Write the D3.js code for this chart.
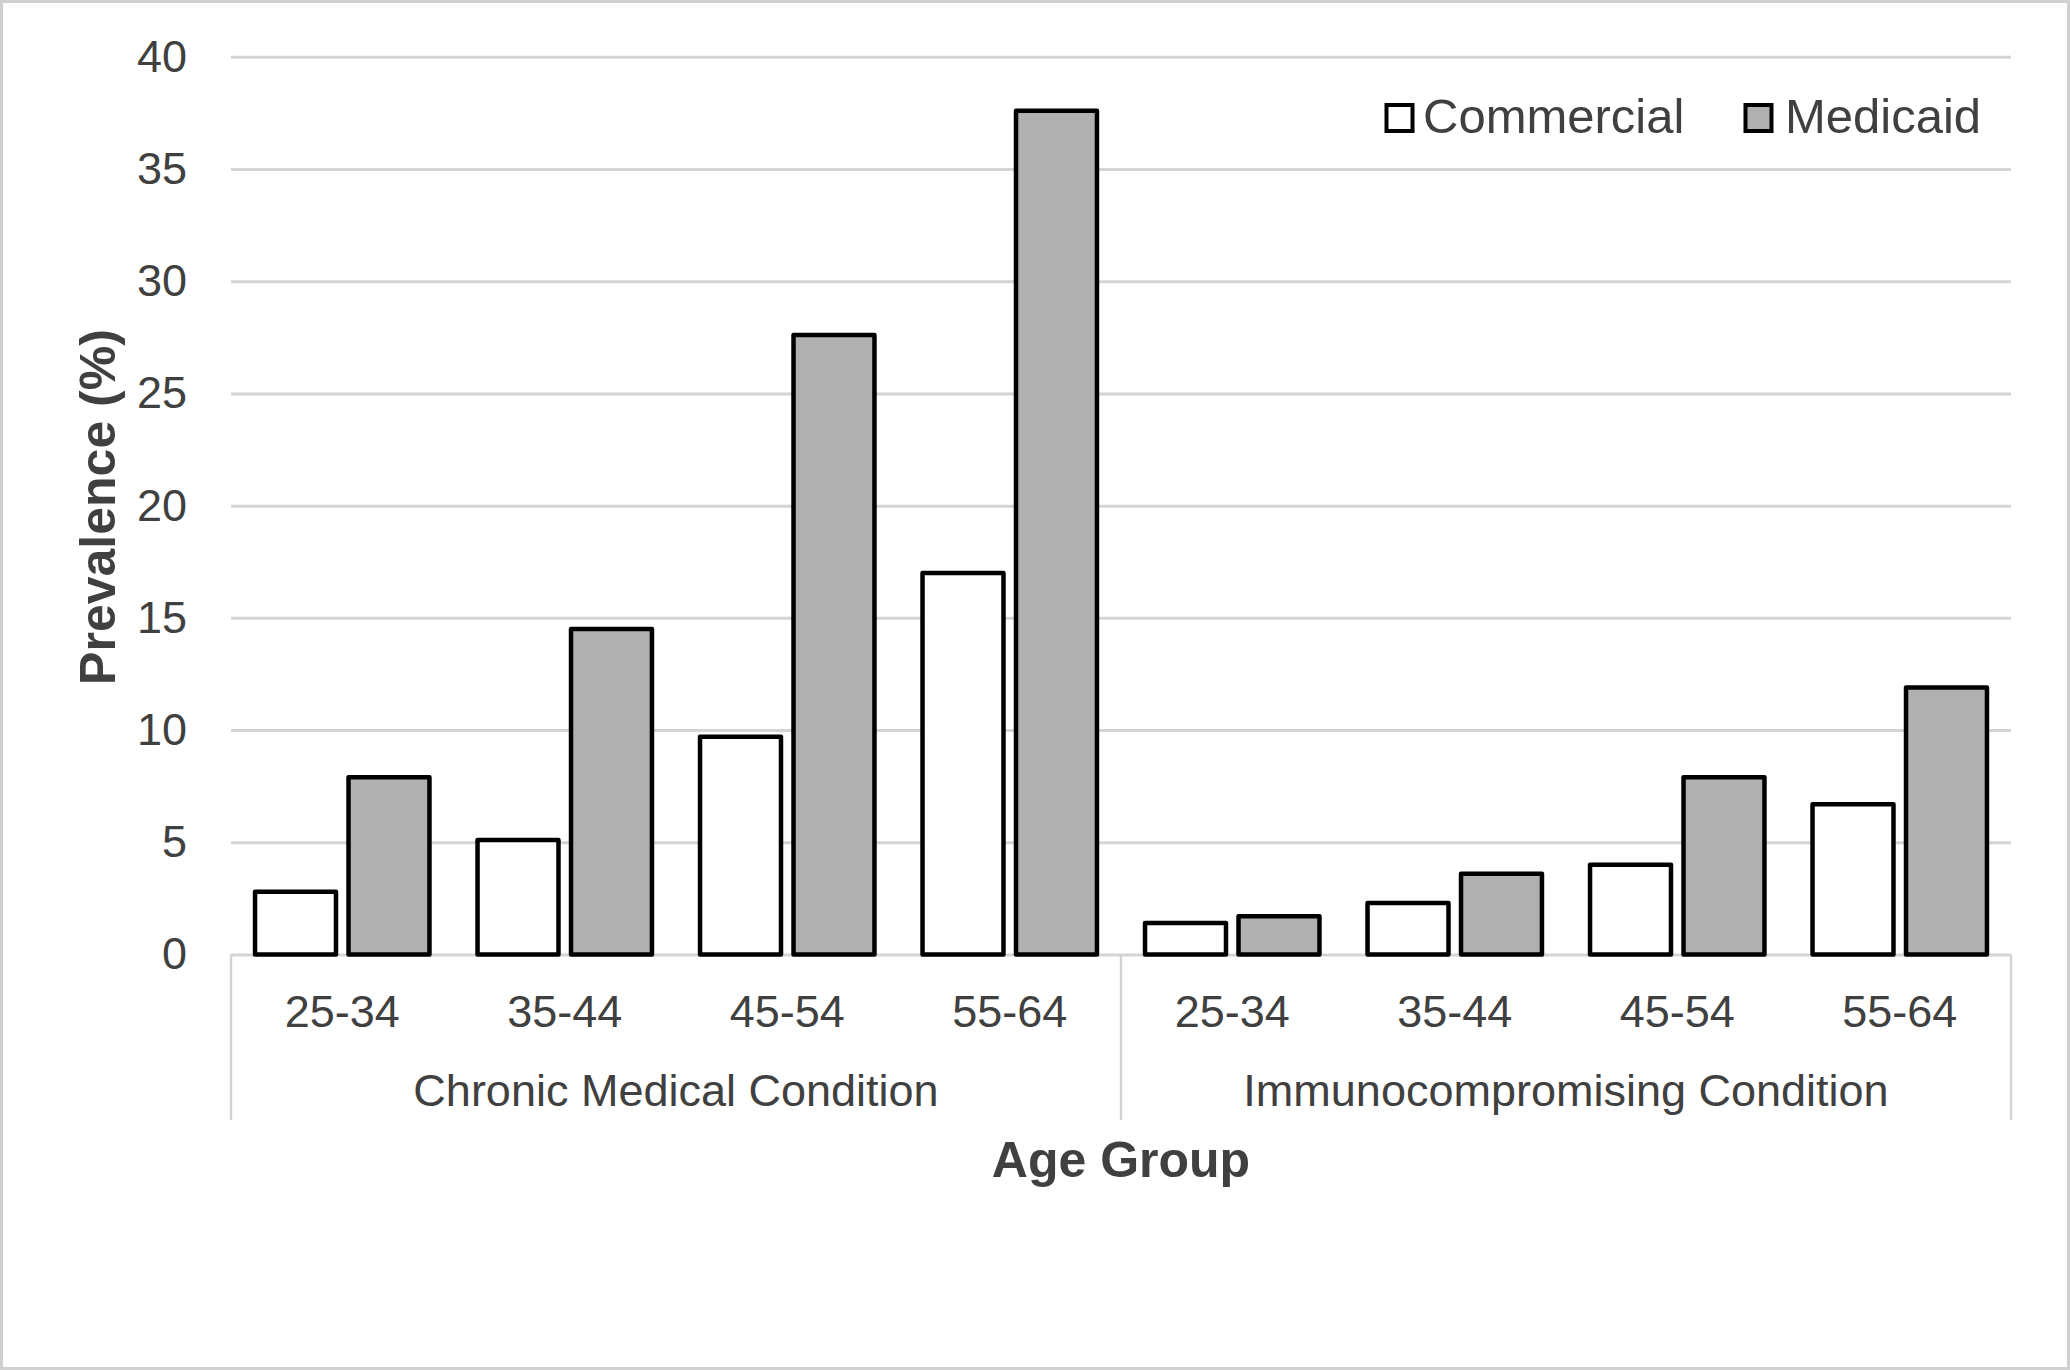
<!DOCTYPE html>
<html>
<head>
<meta charset="utf-8">
<script src="https://cdn.jsdelivr.net/npm/d3@7"></script>
<style>
  html, body { margin: 0; padding: 0; background: #fff; }
  svg { display: block; font-family: "Liberation Sans", Arial, Helvetica, sans-serif; }
</style>
</head>
<body>
<svg id="chart" width="2070" height="1370"></svg>
<script>
// ---- data ----
const conditionGroups = ["Chronic Medical Condition", "Immunocompromising Condition"];
const ageGroups = ["25-34", "35-44", "45-54", "55-64"];
const seriesNames = ["Commercial", "Medicaid"];
const commercial = [2.8, 5.1, 9.7, 17.0, 1.4, 2.3, 4.0, 6.7];
const medicaid   = [7.9, 14.5, 27.6, 37.6, 1.7, 3.6, 7.9, 11.9];
const yTicks = [0, 5, 10, 15, 20, 25, 30, 35, 40];
const yTitle = "Prevalence (%)";
const xTitle = "Age Group";

// ---- build rows ----
const rows = [];
conditionGroups.forEach((g, gi) => {
  ageGroups.forEach((a, ai) => {
    const i = gi * ageGroups.length + ai;
    rows.push({ key: g + "|" + a, group: g, age: a, Commercial: commercial[i], Medicaid: medicaid[i] });
  });
});

const W = 2070, H = 1370;
const plotL = 231, plotR = 2011, plotTop = 56.8, plotBottom = 954.5;
const textColor = "#404040";
const gridColor = "#d4d4d4";
const fills = { Commercial: "#ffffff", Medicaid: "#b0b0b0" };

const svg = d3.select("#chart");
svg.append("rect").attr("x", 0).attr("y", 0).attr("width", W).attr("height", H).attr("fill", "#fff");
// outer frame
svg.append("rect").attr("x", 1.5).attr("y", 1.5).attr("width", W - 3).attr("height", H - 3)
  .attr("fill", "none").attr("stroke", "#d0d0d0").attr("stroke-width", 3);

const y = d3.scaleLinear().domain([0, 40]).range([plotBottom, plotTop]);
const x0 = d3.scaleBand().domain(rows.map(d => d.key)).range([plotL, plotR]).padding(0);
const bw = x0.bandwidth();
const x1 = d3.scaleBand().domain(seriesNames).range([bw * 0.108, bw * 0.892]).paddingInner(0.134).paddingOuter(0);

// y axis with gridlines
const yAxis = svg.append("g").attr("transform", `translate(${plotL},0)`)
  .call(d3.axisLeft(y).tickValues(yTicks).tickSize(-(plotR - plotL)).tickPadding(44));
yAxis.select(".domain").remove();
yAxis.selectAll(".tick line").attr("stroke", gridColor).attr("stroke-width", 3);
yAxis.selectAll(".tick text").attr("fill", textColor).attr("font-size", 45)
  .attr("font-family", '"Liberation Sans", Arial, sans-serif');

// category axis frame lines
const groupBounds = [plotL, (plotL + plotR) / 2, plotR];
svg.append("g").selectAll("line").data(groupBounds).join("line")
  .attr("x1", d => d).attr("x2", d => d)
  .attr("y1", plotBottom).attr("y2", 1120)
  .attr("stroke", gridColor).attr("stroke-width", 2.5);

// bars
const barG = svg.append("g");
rows.forEach(r => {
  seriesNames.forEach(s => {
    barG.append("rect")
      .attr("x", x0(r.key) + x1(s))
      .attr("y", y(r[s]))
      .attr("width", x1.bandwidth())
      .attr("height", y(0) - y(r[s]))
      .attr("fill", fills[s])
      .attr("stroke", "#000")
      .attr("stroke-width", 4.5)
      .attr("stroke-linejoin", "round");
  });
});

// age labels
svg.append("g").selectAll("text").data(rows).join("text")
  .attr("x", d => x0(d.key) + bw / 2)
  .attr("y", 1027)
  .attr("text-anchor", "middle")
  .attr("font-size", 45)
  .attr("fill", textColor)
  .text(d => d.age);

// group labels
svg.append("g").selectAll("text").data(conditionGroups).join("text")
  .attr("x", (d, i) => (groupBounds[i] + groupBounds[i + 1]) / 2)
  .attr("y", 1106)
  .attr("text-anchor", "middle")
  .attr("font-size", 45)
  .attr("fill", textColor)
  .text(d => d);

// axis titles
svg.append("text")
  .attr("x", (plotL + plotR) / 2).attr("y", 1177)
  .attr("text-anchor", "middle").attr("font-size", 50).attr("font-weight", "bold")
  .attr("fill", textColor).text(xTitle);

svg.append("text")
  .attr("transform", "translate(115,507) rotate(-90)")
  .attr("text-anchor", "middle").attr("font-size", 50).attr("font-weight", "bold")
  .attr("fill", textColor).text(yTitle);

// legend
const legendItems = [
  { name: "Commercial", bx: 1386.5, tx: 1423 },
  { name: "Medicaid", bx: 1745.5, tx: 1785 }
];
const lg = svg.append("g");
legendItems.forEach(it => {
  lg.append("rect").attr("x", it.bx).attr("y", 105).attr("width", 26).attr("height", 26)
    .attr("fill", fills[it.name]).attr("stroke", "#000").attr("stroke-width", 4);
  lg.append("text").attr("x", it.tx).attr("y", 133).attr("font-size", 49)
    .attr("fill", textColor).text(it.name);
});
</script>
</body>
</html>
